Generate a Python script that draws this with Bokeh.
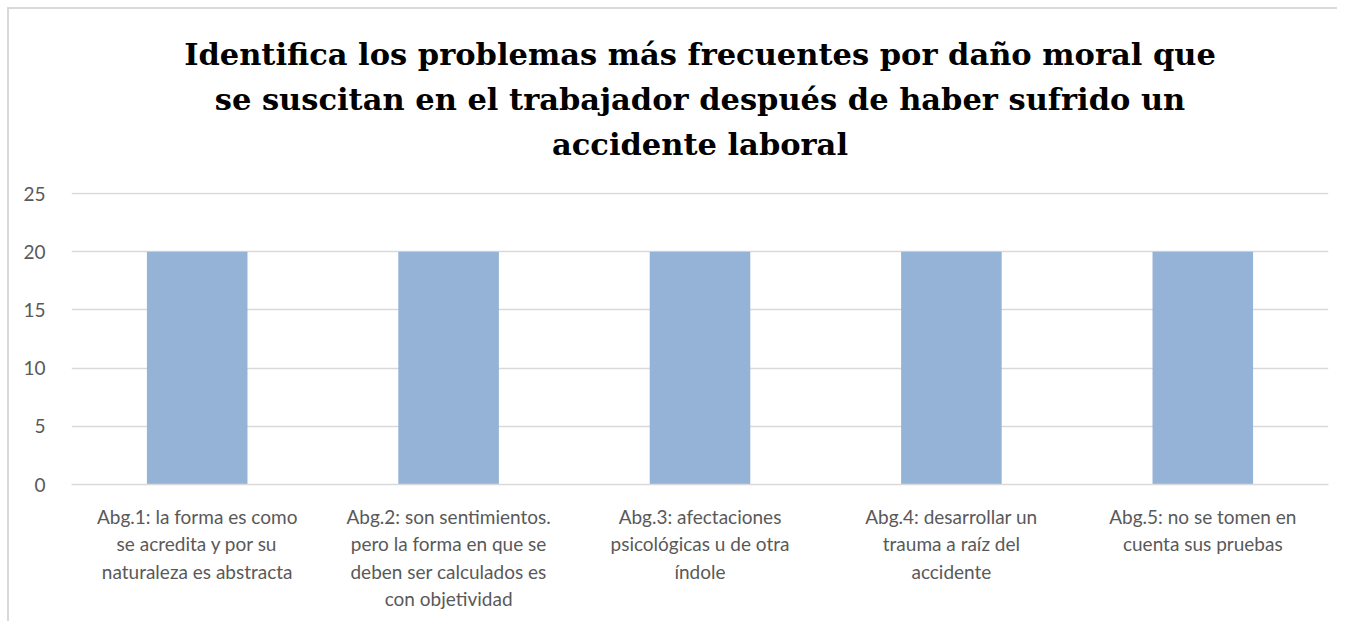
from bokeh.plotting import figure
from bokeh.models import FixedTicker, Title
from bokeh.embed import file_html
from bokeh.resources import INLINE

categories = [
    "Abg.1: la forma es como\nse acredita y por su\nnaturaleza es abstracta",
    "Abg.2: son sentimientos.\npero la forma en que se\ndeben ser calculados es\ncon objetividad",
    "Abg.3: afectaciones\npsicológicas u de otra\níndole",
    "Abg.4: desarrollar un\ntrauma a raíz del\naccidente",
    "Abg.5: no se tomen en\ncuenta sus pruebas",
]
values = [20, 20, 20, 20, 20]
y_ticks = [0, 5, 10, 15, 20, 25]
title_lines = [
    "Identifica los problemas más frecuentes por daño moral que",
    "se suscitan en el trabajador después de haber sufrido un",
    "accidente laboral",
]

p = figure(x_range=categories, y_range=(0, 25.1), width=1330, height=614,
           output_backend="svg", toolbar_location=None,
           min_border_left=62, min_border_right=11, min_border_bottom=139,
           min_border_top=183)
p.title = None

# spacer between the title block and the plot area
p.add_layout(Title(text=" ", standoff=0, text_font="DejaVu Serif",
                   text_font_size="21px"), "above")
# title lines: added from the one nearest the plot outward
for txt in reversed(title_lines):
    p.add_layout(Title(text=txt, align="center", standoff=7,
                       text_font="DejaVu Serif", text_font_style="bold",
                       text_font_size="30.5px", text_color="#000000"), "above")

p.vbar(x=categories, top=values, width=0.4, color="#95b3d7", line_color=None)

p.outline_line_color = None
p.background_fill_color = "white"
p.border_fill_color = "white"
p.styles = {"border-left": "2px solid #d9d9d9", "border-top": "2px solid #d9d9d9",
            "margin-left": "7px", "margin-top": "7px"}

p.xgrid.grid_line_color = None
p.ygrid.grid_line_color = "#d9d9d9"
p.ygrid.grid_line_width = 1.5
p.yaxis.ticker = FixedTicker(ticks=y_ticks)

for ax in (p.xaxis[0], p.yaxis[0]):
    ax.major_tick_line_color = None
    ax.minor_tick_line_color = None
    ax.major_label_text_color = "#595959"
    ax.major_label_text_font = "Lato"
    ax.major_label_text_font_size = "19px"

p.yaxis.axis_line_color = None
p.yaxis.major_label_standoff = 20
p.xaxis.axis_line_color = "#d9d9d9"
p.xaxis.axis_line_width = 1.5
p.xaxis.major_label_standoff = 14

open("out.html", "w").write(file_html(p, INLINE))
